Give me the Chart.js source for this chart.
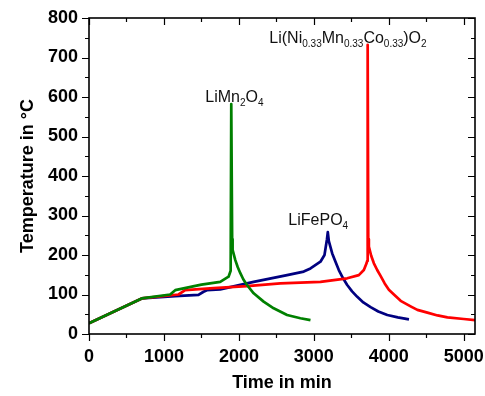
<!DOCTYPE html>
<html>
<head>
<meta charset="utf-8">
<script src="https://cdn.jsdelivr.net/npm/chart.js@4"></script>
<style>
  html, body { margin: 0; padding: 0; background: #fff; }
  #wrap { width: 485px; height: 396px; }
</style>
</head>
<body>
<div id="wrap"><canvas id="myChart" width="485" height="396"></canvas></div>
<script>
// values (time in min, temperature in °C)
const greenX = [0, 704, 1083, 1150, 1500, 1751, 1862, 1890, 1898, 1910, 1916, 1952, 1985, 2019, 2060, 2108, 2197, 2330, 2464, 2643, 2821, 2955];
const greenY = [27, 90, 100, 111, 125, 132, 145, 160, 582, 240, 213, 187, 169, 154, 138, 124, 103, 82, 65, 48, 40, 35];

const redX = [0, 704, 1194, 1283, 1662, 2108, 2553, 3088, 3445, 3600, 3667, 3703, 3712, 3718, 3726, 3734, 3765, 3801, 3845, 3890, 3945, 4001, 4068, 4158, 4291, 4381, 4515, 4650, 4782, 5000, 5150];
const redY = [27, 90, 100, 111, 116, 121, 128, 132, 141, 149, 162, 179, 185, 732, 240, 221, 198, 179, 162, 147, 128, 112, 100, 84, 70, 61, 54, 47, 42, 38, 35];

const blueX = [0, 704, 1150, 1461, 1528, 1573, 1751, 2197, 2643, 2865, 2955, 3088, 3142, 3175, 3186, 3200, 3245, 3290, 3333, 3390, 3445, 3510, 3579, 3660, 3757, 3860, 3980, 4120, 4269];
const blueY = [27, 90, 96, 99, 107, 111, 113, 132, 149, 158, 166, 183, 200, 240, 258, 235, 204, 182, 162, 141, 124, 108, 94, 80, 68, 57, 48, 42, 37];

const xTicks = [0, 1000, 2000, 3000, 4000, 5000];
const yTicks = [0, 100, 200, 300, 400, 500, 600, 700, 800];
const xMax = 5150;
const yMax = 800;

// text labels next to the peaks: [text, isSubscript] pieces, anchored in data units
const peakLabels = [
  { x: 1551, y: 587, parts: [["LiMn", 0], ["2", 1], ["O", 0], ["4", 1]] },
  { x: 2406, y: 737, parts: [["Li(Ni", 0], ["0.33", 1], ["Mn", 0], ["0.33", 1], ["Co", 0], ["0.33", 1], [")O", 0], ["2", 1]] },
  { x: 2660, y: 276, parts: [["LiFePO", 0], ["4", 1]] }
];

const FONT = "'Liberation Sans', Arial, sans-serif";

function toPoints(xs, ys) {
  return xs.map((v, i) => ({ x: v, y: ys[i] }));
}

const frameTicks = {
  id: "frameTicks",
  afterDraw(chart) {
    const { ctx, chartArea: a } = chart;
    const x = chart.scales.x;
    const y = chart.scales.y;
    ctx.save();
    ctx.strokeStyle = "#000";
    ctx.lineWidth = 1.2;
    ctx.beginPath();
    for (let v = 0; v <= xMax; v += 500) {
      const px = Math.round(x.getPixelForValue(v)) + 0.5;
      const len = v % 1000 === 0 ? 7 : 4;
      ctx.moveTo(px, a.bottom);
      ctx.lineTo(px, a.bottom + len);
      ctx.moveTo(px, a.top);
      ctx.lineTo(px, a.top + len);
    }
    for (let v = 0; v <= yMax; v += 50) {
      const py = Math.round(y.getPixelForValue(v)) + 0.5;
      const len = v % 100 === 0 ? 7 : 4;
      ctx.moveTo(a.left, py);
      ctx.lineTo(a.left - len, py);
      ctx.moveTo(a.right, py);
      ctx.lineTo(a.right - len, py);
    }
    ctx.stroke();
    ctx.lineWidth = 1.6;
    ctx.strokeRect(a.left, a.top, a.right - a.left, a.bottom - a.top);

    // peak labels with subscripts
    ctx.fillStyle = "#111";
    ctx.textBaseline = "alphabetic";
    ctx.textAlign = "left";
    peakLabels.forEach((lab) => {
      let px = x.getPixelForValue(lab.x);
      const py = y.getPixelForValue(lab.y);
      lab.parts.forEach(([txt, sub]) => {
        ctx.font = (sub ? "10px " : "16px ") + FONT;
        ctx.fillText(txt, px, sub ? py + 4 : py);
        px += ctx.measureText(txt).width;
      });
    });
    ctx.restore();
  }
};

const lineStyle = {
  borderWidth: 2.7,
  pointRadius: 0,
  fill: false,
  tension: 0,
  borderJoinStyle: "round"
};

new Chart(document.getElementById("myChart"), {
  type: "line",
  data: {
    datasets: [
      Object.assign({ label: "LiMn2O4", data: toPoints(greenX, greenY), borderColor: "#008000" }, lineStyle),
      Object.assign({ label: "Li(Ni0.33Mn0.33Co0.33)O2", data: toPoints(redX, redY), borderColor: "#ff0000" }, lineStyle),
      Object.assign({ label: "LiFePO4", data: toPoints(blueX, blueY), borderColor: "#000080" }, lineStyle)
    ]
  },
  options: {
    responsive: false,
    animation: false,
    layout: { padding: { top: 18, right: 10, left: 0, bottom: 0 } },
    plugins: {
      legend: { display: false },
      tooltip: { enabled: false }
    },
    scales: {
      x: {
        type: "linear",
        min: 0,
        max: xMax,
        afterBuildTicks: (axis) => { axis.ticks = xTicks.map((v) => ({ value: v })); },
        afterFit: (axis) => {
          axis.height = 62;
          axis.paddingLeft = 0;
          axis.paddingRight = 0;
        },
        grid: { display: false, drawTicks: false },
        border: { display: false },
        ticks: {
          padding: 12,
          color: "#000",
          maxRotation: 0,
          callback: (v) => String(v),
          font: { family: FONT, size: 18, weight: "bold" }
        },
        title: {
          display: true,
          text: "Time in min",
          color: "#000",
          padding: { top: 0, bottom: 2 },
          font: { family: FONT, size: 18, weight: "bold" }
        }
      },
      y: {
        type: "linear",
        min: 0,
        max: yMax,
        afterBuildTicks: (axis) => { axis.ticks = yTicks.map((v) => ({ value: v })); },
        afterFit: (axis) => {
          axis.width = 89;
          axis.paddingTop = 0;
          axis.paddingBottom = 0;
        },
        grid: { display: false, drawTicks: false },
        border: { display: false },
        ticks: {
          padding: 11,
          color: "#000",
          callback: (v) => String(v),
          font: { family: FONT, size: 18, weight: "bold" }
        },
        title: {
          display: true,
          text: "Temperature in °C",
          color: "#000",
          padding: { top: 17, bottom: 0 },
          font: { family: FONT, size: 18, weight: "bold" }
        }
      }
    }
  },
  plugins: [frameTicks]
});
</script>
</body>
</html>
